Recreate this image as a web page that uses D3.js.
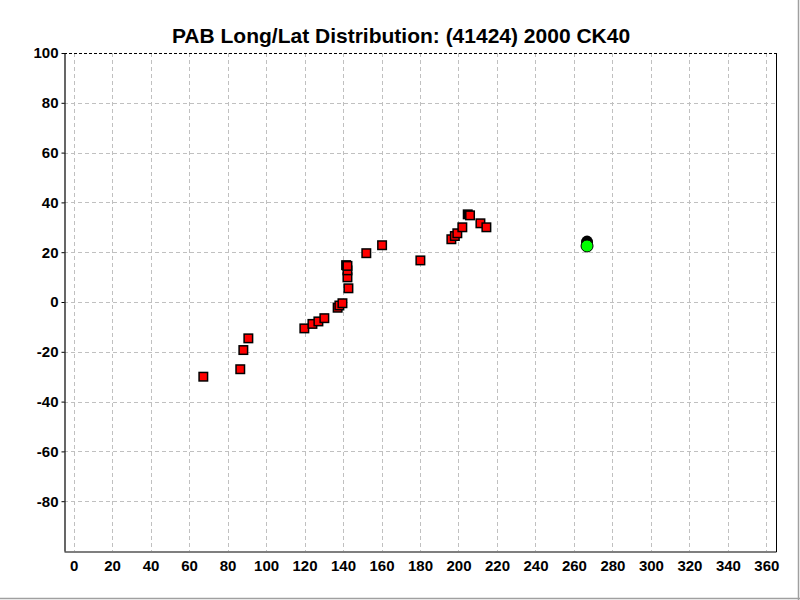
<!DOCTYPE html>
<html>
<head>
<meta charset="utf-8">
<script src="https://cdn.jsdelivr.net/npm/d3@7"></script>
<style>
  body { margin: 0; background: #fff; }
  svg { display: block; }
  text { font-family: "Liberation Sans", Arial, sans-serif; font-weight: bold; fill: #000; }
</style>
</head>
<body>
<script>
const titleText = "PAB Long/Lat Distribution: (41424) 2000 CK40";
const xTicks = [0,20,40,60,80,100,120,140,160,180,200,220,240,260,280,300,320,340,360];
const yTicks = [-80,-60,-40,-20,0,20,40,60,80,100];

// red square observations (longitude, latitude)
const redLong = [67.4, 86.6, 88.2, 90.8, 119.9, 124.1, 127.2, 130.3, 137.2, 138.1, 139.7, 142.8, 142.3, 142.3, 142.3, 152.1, 160.3, 180.2, 196.3, 198.1, 199.4, 202.0, 206.0, 211.4, 214.5];
const redLat  = [-30.0, -27.0, -19.3, -14.6, -10.6, -8.8, -7.8, -6.5, -2.3, -1.4, -0.5, 5.5, 9.9, 12.7, 14.5, 19.6, 22.8, 16.7, 25.2, 26.5, 27.6, 30.0, 34.8, 31.6, 30.0];
// dark squares partly hidden behind red ones
const darkLong = [204.8, 141.6];
const darkLat  = [35.2, 14.8];
// circles
const blackCircLong = [266.8];
const blackCircLat  = [24.1];
const greenCircLong = [266.8];
const greenCircLat  = [22.5];

(function () {
const W = 800, H = 600;
const svg = d3.select("body").append("svg").attr("width", W).attr("height", H);
svg.append("rect").attr("width", W).attr("height", H).attr("fill", "#fff");

const pL = 64, pR = 776, pT = 53, pB = 551;
const x = d3.scaleLinear().domain([-5, 365]).range([pL, pR]);
const y = d3.scaleLinear().domain([-100, 100]).range([pB, pT]);
const fmt = d => String(d);

// grid
const g = svg.append("g");
g.selectAll("line.vg").data(xTicks).join("line")
  .attr("x1", d => Math.round(x(d)) + 0.5).attr("x2", d => Math.round(x(d)) + 0.5)
  .attr("y1", pT).attr("y2", pB)
  .attr("stroke", "#c0c0c0").attr("stroke-dasharray", "4,3");
g.selectAll("line.hg").data(yTicks.filter(d => d < 100)).join("line")
  .attr("y1", d => Math.round(y(d)) + 0.5).attr("y2", d => Math.round(y(d)) + 0.5)
  .attr("x1", pL).attr("x2", pR)
  .attr("stroke", "#c0c0c0").attr("stroke-dasharray", "4,3");

// frame
svg.append("line").attr("x1", pL).attr("x2", pR).attr("y1", pT + 0.5).attr("y2", pT + 0.5)
  .attr("stroke", "#000").attr("stroke-dasharray", "3,2");
svg.append("line").attr("x1", pR + 0.5).attr("x2", pR + 0.5).attr("y1", pT).attr("y2", pB + 1)
  .attr("stroke", "#000");

// axes
const yAxis = d3.axisLeft(y).tickValues(yTicks).tickSize(3).tickSizeOuter(0).tickPadding(3).tickFormat(fmt);
const ya = svg.append("g").attr("transform", `translate(${pL + 0.5},0)`).call(yAxis);
ya.select(".domain").attr("stroke", "#000").attr("stroke-width", 1.2);
ya.selectAll("text").style("font-size", "15px").style("font-weight", "bold").attr("fill", "#000");

const xAxis = d3.axisBottom(x).tickValues(xTicks).tickSize(0).tickSizeOuter(0).tickPadding(9).tickFormat(fmt);
const xa = svg.append("g").attr("transform", `translate(0,${pB + 0.5})`).call(xAxis);
xa.select(".domain").attr("stroke", "#000").attr("stroke-width", 1.2);
xa.selectAll("text").style("font-size", "15px").style("font-weight", "bold").attr("fill", "#000");

// title
svg.append("text").attr("x", 401).attr("y", 43).attr("text-anchor", "middle")
  .style("font-size", "21px").text(titleText);

// points
const sq = 8.5;
const dark = darkLong.map((v, i) => [v, darkLat[i]]);
svg.append("g").selectAll("rect").data(dark).join("rect")
  .attr("x", d => x(d[0]) - sq / 2).attr("y", d => y(d[1]) - sq / 2)
  .attr("width", sq).attr("height", sq)
  .attr("fill", "#000").attr("stroke", "#000").attr("stroke-width", 1.5);

const red = redLong.map((v, i) => [v, redLat[i]]);
svg.append("g").selectAll("rect").data(red).join("rect")
  .attr("x", d => x(d[0]) - sq / 2).attr("y", d => y(d[1]) - sq / 2)
  .attr("width", sq).attr("height", sq)
  .attr("fill", "#ff0000").attr("stroke", "#000").attr("stroke-width", 1.5);

const bc = blackCircLong.map((v, i) => [v, blackCircLat[i]]);
svg.append("g").selectAll("ellipse").data(bc).join("ellipse")
  .attr("cx", d => x(d[0])).attr("cy", d => y(d[1])).attr("rx", 6).attr("ry", 6.5)
  .attr("fill", "#000");
const gc = greenCircLong.map((v, i) => [v, greenCircLat[i]]);
svg.append("g").selectAll("circle").data(gc).join("circle")
  .attr("cx", d => x(d[0])).attr("cy", d => y(d[1])).attr("r", 6)
  .attr("fill", "#00ff00").attr("stroke", "#000").attr("stroke-width", 1);

// outer window edge
svg.append("line").attr("x1", 798.5).attr("x2", 798.5).attr("y1", 0).attr("y2", 600).attr("stroke", "#a0a0a0").attr("stroke-width", 1.5);
svg.append("line").attr("x1", 0).attr("x2", 800).attr("y1", 598.5).attr("y2", 598.5).attr("stroke", "#a0a0a0").attr("stroke-width", 1.5);
})();
</script>
</body>
</html>
